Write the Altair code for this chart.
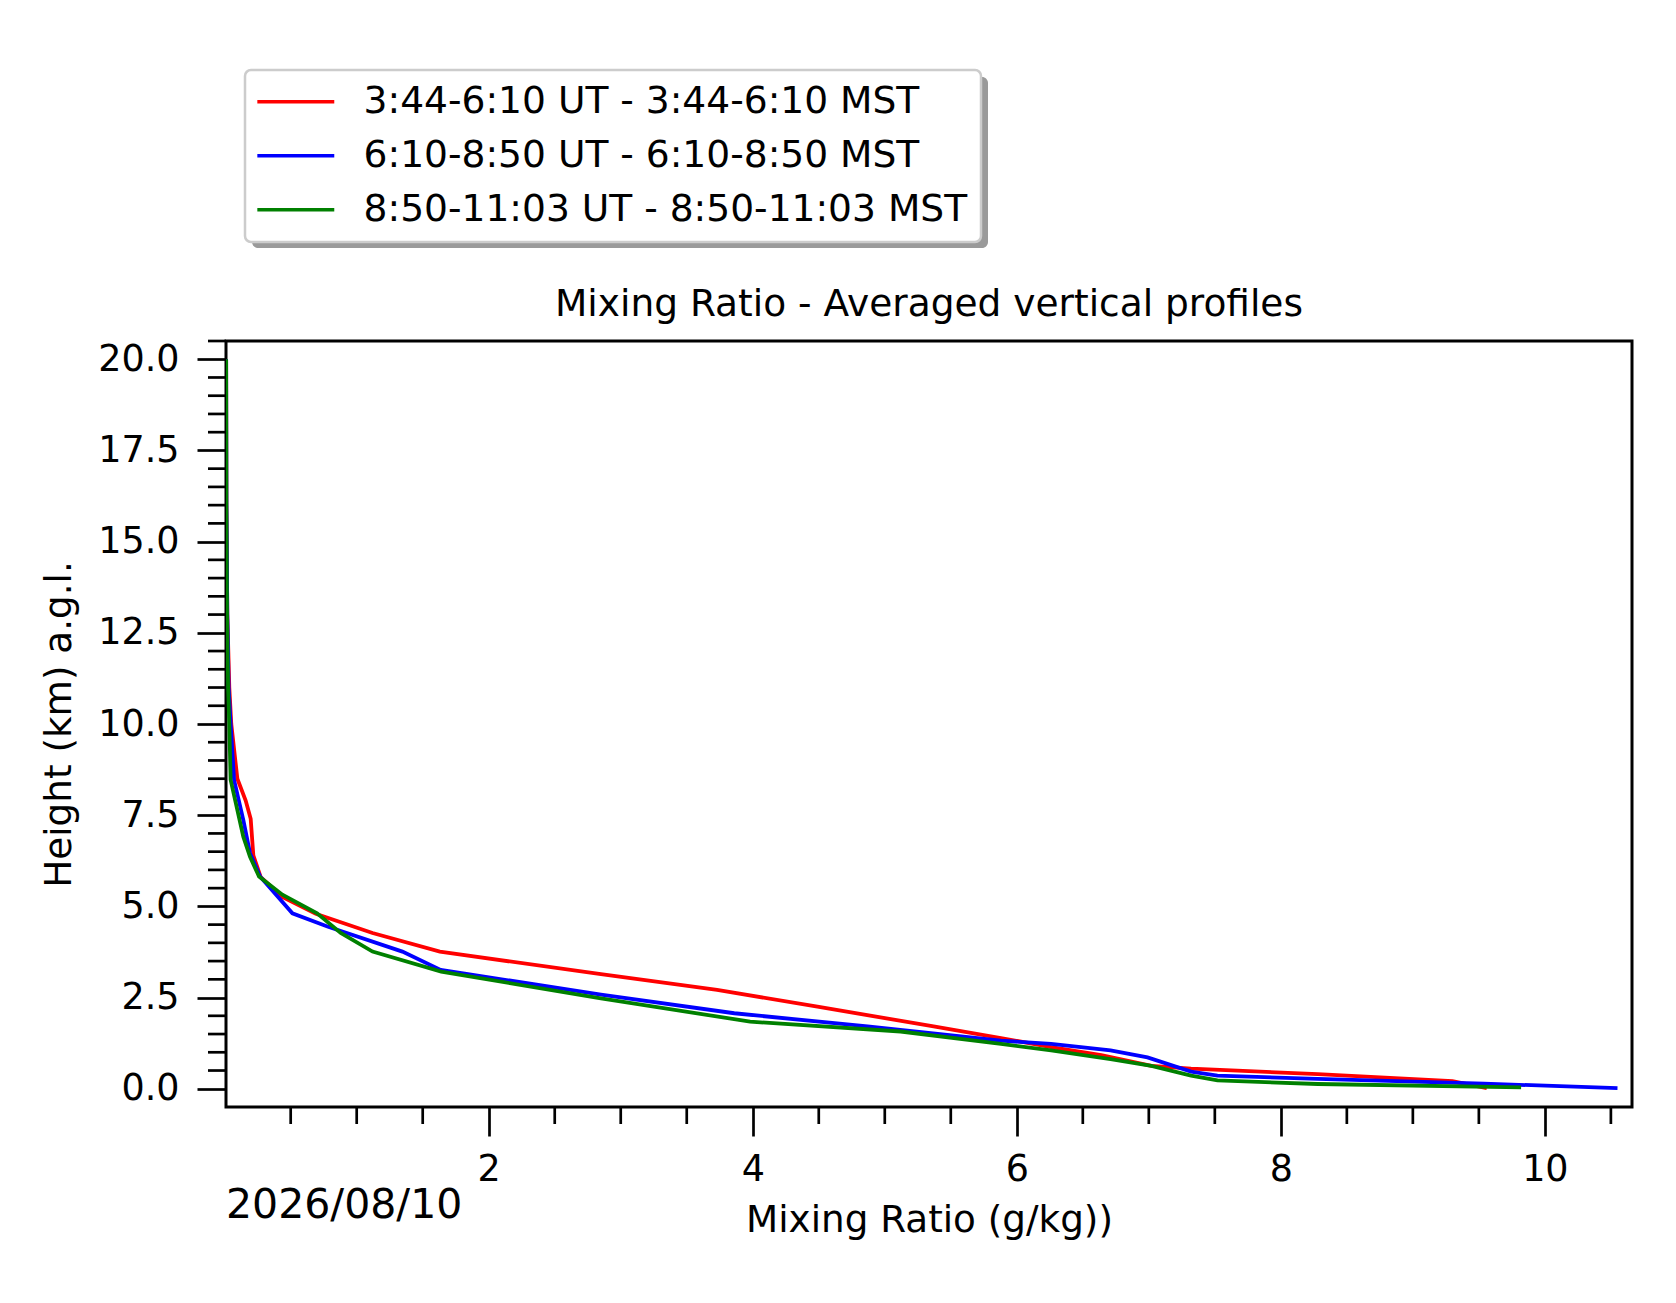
import altair as alt
import pandas as pd

FONT = "DejaVu Sans"

SERIES = ["3:44-6:10 UT - 3:44-6:10 MST",
          "6:10-8:50 UT - 6:10-8:50 MST",
          "8:50-11:03 UT - 8:50-11:03 MST"]
COLORS = ["#ff0000", "#0000ff", "#008000"]

red_height = [20.0, 16.0, 13.0, 11.0, 10.0, 8.5, 7.9, 7.4, 6.4, 5.8, 5.25, 4.8, 4.27, 3.76,
              3.14, 2.71, 2.25, 1.71, 1.39, 1.14, 0.92, 0.63, 0.55, 0.40, 0.21, 0.02]
red_mr = [0.011, 0.013, 0.02, 0.035, 0.05, 0.096, 0.159, 0.197, 0.217, 0.273, 0.44, 0.69, 1.12, 1.63,
          2.85, 3.73, 4.49, 5.37, 5.88, 6.26, 6.64, 7.02, 7.32, 8.28, 9.3, 9.56]

blue_height = [20.0, 16.0, 13.0, 11.0, 10.0, 8.47, 7.37, 6.46, 5.82, 4.81, 4.45, 3.76, 3.26,
               2.58, 2.07, 1.71, 1.32, 1.23, 1.05, 0.86, 0.47, 0.36, 0.27, 0.14, 0.02]
blue_mr = [0.011, 0.013, 0.02, 0.03, 0.045, 0.071, 0.141, 0.192, 0.268, 0.513, 0.778, 1.346, 1.636,
           2.85, 3.86, 4.87, 5.88, 6.26, 6.71, 6.99, 7.32, 7.52, 8.28, 9.54, 10.55]

green_height = [20.0, 16.0, 13.0, 11.0, 10.0, 8.47, 6.91, 6.36, 5.82, 5.32, 4.81, 4.27, 3.76,
                3.21, 2.48, 1.84, 1.57, 1.23, 1.05, 0.81, 0.63, 0.36, 0.23, 0.13, 0.04]
green_mr = [0.011, 0.013, 0.018, 0.026, 0.035, 0.045, 0.141, 0.192, 0.26, 0.437, 0.70, 0.879, 1.12,
            1.64, 2.85, 3.98, 5.12, 5.88, 6.26, 6.71, 7.02, 7.32, 7.52, 8.28, 9.82]

x_major = [2, 4, 6, 8, 10]
x_minor = [0.5, 1.0, 1.5, 2.5, 3.0, 3.5, 4.5, 5.0, 5.5, 6.5, 7.0, 7.5, 8.5, 9.0, 9.5, 10.5]
y_major = [0.0, 2.5, 5.0, 7.5, 10.0, 12.5, 15.0, 17.5, 20.0]
y_minor = [0.5, 1.0, 1.5, 2.0, 3.0, 3.5, 4.0, 4.5, 5.5, 6.0, 6.5, 7.0, 8.0, 8.5, 9.0, 9.5,
           10.5, 11.0, 11.5, 12.0, 13.0, 13.5, 14.0, 14.5, 15.5, 16.0, 16.5, 17.0,
           18.0, 18.5, 19.0, 19.5, 20.5]
date_label = ["2026/08/10"]
title_text = ["Mixing Ratio - Averaged vertical profiles"]

W, H = 1406, 766

rows = []
for name, hs, ms in [(SERIES[0], red_height, red_mr),
                     (SERIES[1], blue_height, blue_mr),
                     (SERIES[2], green_height, green_mr)]:
    for i, (h, m) in enumerate(zip(hs, ms)):
        rows.append({"series": name, "height": h, "mr": m, "idx": i})
df = pd.DataFrame(rows)

xscale = alt.Scale(domain=[0.01, 10.66], nice=False, zero=False)
yscale = alt.Scale(domain=[-0.5, 20.5], nice=False, zero=False)

x_axis = alt.Axis(values=x_major, format="d", tickSize=29, tickWidth=2.7, tickColor="black",
                  domain=False, grid=False, labelFont=FONT, labelFontSize=36.5, labelColor="black",
                  labelPadding=15, labelFlush=False, labelOverlap=False,
                  title="Mixing Ratio (g/kg))", titleFont=FONT, titleFontSize=37.3,
                  titleFontWeight="normal", titleColor="black", titleX=W / 2, titleY=113,
                  titleBaseline="middle", titleAlign="center")
y_axis = alt.Axis(values=y_major, format=".1f", tickSize=29, tickWidth=2.7, tickColor="black",
                  domain=False, grid=False, labelFont=FONT, labelFontSize=36.5, labelColor="black",
                  labelPadding=18, labelFlush=False, labelOverlap=False,
                  title="Height (km) a.g.l.", titleFont=FONT, titleFontSize=37.3,
                  titleFontWeight="normal", titleColor="black", titleAngle=270,
                  titleX=-167, titleY=H / 2, titleBaseline="middle", titleAlign="center")

legend = alt.Legend(title=None, orient="none", legendX=19, legendY=-271, padding=13,
                    rowPadding=15, fillColor="white", strokeColor="#cccccc", cornerRadius=6,
                    labelFont=FONT, labelFontSize=37.6, labelColor="black", labelLimit=1000,
                    labelOffset=49, symbolOffset=19, symbolType="M-4,0L4,0", symbolSize=370,
                    symbolStrokeWidth=3.5)

lines = alt.Chart(df).mark_line(strokeWidth=3.8, clip=True).encode(
    x=alt.X("mr:Q", scale=xscale, axis=x_axis),
    y=alt.Y("height:Q", scale=yscale, axis=y_axis),
    color=alt.Color("series:N", scale=alt.Scale(domain=SERIES, range=COLORS), legend=legend),
    order="idx:Q",
)

xminor = alt.Chart(pd.DataFrame({"mr": x_minor})).mark_rule(color="black", strokeWidth=2.7).encode(
    x=alt.X("mr:Q", scale=xscale, axis=x_axis),
    y=alt.value(H), y2=alt.value(H + 17),
)
yminor = alt.Chart(pd.DataFrame({"height": y_minor})).mark_rule(color="black", strokeWidth=2.7).encode(
    y=alt.Y("height:Q", scale=yscale, axis=y_axis),
    x=alt.value(0), x2=alt.value(-18),
)

date = alt.Chart(pd.DataFrame({"t": date_label})).mark_text(
    align="left", baseline="middle", fontSize=41, font=FONT, color="black"
).encode(text="t:N", x=alt.value(0), y=alt.value(H + 99))

title = alt.Chart(pd.DataFrame({"t": title_text})).mark_text(
    align="center", baseline="alphabetic", fontSize=37.5, font=FONT, color="black"
).encode(text="t:N", x=alt.value(W / 2), y=alt.value(-25))

shadow = alt.Chart(pd.DataFrame({"k": [0]})).mark_rect(color="#9a9a9a", cornerRadius=6).encode(
    x=alt.value(26), x2=alt.value(762), y=alt.value(-264), y2=alt.value(-93)
)

chart = alt.layer(shadow, lines, xminor, yminor, date, title).properties(
    width=W, height=H,
    padding={"left": 218, "top": 333, "right": 36, "bottom": 188},
    autosize=alt.AutoSizeParams(type="none"),
).configure_view(stroke="black", strokeWidth=3).configure_legend(strokeWidth=2.5)

chart.save("out.html", embed_options={"renderer": "svg", "actions": False})
